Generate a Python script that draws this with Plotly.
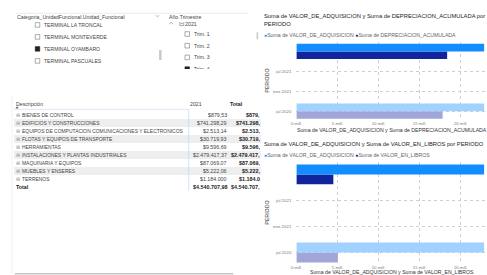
import plotly.graph_objects as go

# ------------------------------------------------------------------ data
PERIODOS = ["2020-06-30", "2021-12-31"]
PERIODO_SELECCIONADO = [False, True]
VALOR_DE_ADQUISICION = [22.85e6, 22.85e6]
DEPRECIACION_ACUMULADA = [17.80e6, 18.35e6]
VALOR_EN_LIBROS = [5.05e6, 4.50e6]

EJE_X_VALORES = [0, 5e6, 10e6, 15e6, 20e6]
EJE_X_ETIQUETAS = ["0 mill.", "5 mill.", "10 mill.", "15 mill.", "20 mill."]
EJE_Y_FECHAS = ["2020-07-01", "2021-01-01", "2021-07-01"]
EJE_Y_ETIQUETAS = ["jul 2020", "ene 2021", "jul 2021"]

UNIDADES = ["TERMINAL LA TRONCAL", "TERMINAL MONTEVERDE",
            "TERMINAL OYAMBARO", "TERMINAL PASCUALES"]
UNIDAD_SELECCIONADA = [False, False, True, False]
ANIO = "2021"
TRIMESTRES = ["Trim. 1", "Trim. 2", "Trim. 3", "Trim. 4"]
TRIMESTRE_SELECCIONADO = [False, False, False, True]

DESCRIPCIONES = [
    "BIENES DE CONTROL",
    "EDIFICIOS Y CONSTRUCCIONES",
    "EQUIPOS DE COMPUTACION COMUNICACIONES Y ELECTRONICOS",
    "FLOTAS Y EQUIPOS DE TRANSPORTE",
    "HERRAMIENTAS",
    "INSTALACIONES Y PLANTAS INDUSTRIALES",
    "MAQUINARIA Y EQUIPOS",
    "MUEBLES Y ENSERES",
    "TERRENOS",
]
VALORES_2021 = [879.53, 741298.29, 2513.14, 30719.93, 9596.69,
                2479417.37, 87069.07, 5222.06, 1184000]
TOTAL_2021 = 4540707.98

# ------------------------------------------------------------------ style
W, H = 487, 275
FONT = "Liberation Sans, Arial, sans-serif"
AZUL, AZUL_TENUE = "#118DFF", "#A0D1FF"
MARINO, MARINO_TENUE = "#12239E", "#A0A7D8"
BAR_W = 70 * 86400000  # bar thickness in ms
X_MAX = 23.2e6
Y_RANGE = ["2020-04-10", "2022-03-28"]


def X(p):
    return p / W


def Y(p):
    return 1 - p / H


def fmt(v):
    s = f"{v:,.0f}" if float(v).is_integer() else f"{v:,.2f}"
    return "$" + s.replace(",", "#").replace(".", ",").replace("#", ".")


def colores(base, tenue):
    return [base if s else tenue for s in PERIODO_SELECCIONADO]


fig = go.Figure()

# chart 1 : adquisicion vs depreciacion
fig.add_trace(go.Bar(orientation="h", y=PERIODOS, x=DEPRECIACION_ACUMULADA,
                     marker=dict(color=colores(MARINO, MARINO_TENUE), line_width=0),
                     offset=-BAR_W, width=BAR_W, xaxis="x", yaxis="y",
                     name="Suma de DEPRECIACION_ACUMULADA"))
fig.add_trace(go.Bar(orientation="h", y=PERIODOS, x=VALOR_DE_ADQUISICION,
                     marker=dict(color=colores(AZUL, AZUL_TENUE), line_width=0),
                     offset=0, width=BAR_W, xaxis="x", yaxis="y",
                     name="Suma de VALOR_DE_ADQUISICION"))
# chart 2 : adquisicion vs valor en libros
fig.add_trace(go.Bar(orientation="h", y=PERIODOS, x=VALOR_EN_LIBROS,
                     marker=dict(color=colores(MARINO, MARINO_TENUE), line_width=0),
                     offset=-BAR_W, width=BAR_W, xaxis="x2", yaxis="y2",
                     name="Suma de VALOR_EN_LIBROS"))
fig.add_trace(go.Bar(orientation="h", y=PERIODOS, x=VALOR_DE_ADQUISICION,
                     marker=dict(color=colores(AZUL, AZUL_TENUE), line_width=0),
                     offset=0, width=BAR_W, xaxis="x2", yaxis="y2",
                     name="Suma de VALOR_DE_ADQUISICION"))

xcommon = dict(range=[0, X_MAX], tickvals=EJE_X_VALORES, ticktext=EJE_X_ETIQUETAS,
               tickfont=dict(family=FONT, size=4.3, color="#777"),
               showgrid=True, gridcolor="#cfcfcf", griddash="dot", gridwidth=0.7,
               zeroline=False, showline=False, ticks="", fixedrange=True,
               domain=[X(294), 1])
ycommon = dict(type="date", range=Y_RANGE, tickvals=EJE_Y_FECHAS, ticktext=EJE_Y_ETIQUETAS,
               tickfont=dict(family=FONT, size=4.4, color="#777"),
               showgrid=True, gridcolor="#cfcfcf", griddash="dot", gridwidth=0.7,
               zeroline=False, showline=False, ticks="", ticklabelstandoff=4,
               fixedrange=True)

fig.update_layout(
    width=W, height=H, margin=dict(l=0, r=0, t=0, b=0),
    paper_bgcolor="white", plot_bgcolor="white", showlegend=False,
    barmode="overlay",
    xaxis=dict(anchor="y", **xcommon),
    yaxis=dict(anchor="x", domain=[Y(120), Y(42)], **ycommon),
    xaxis2=dict(anchor="y2", **xcommon),
    yaxis2=dict(anchor="x2", domain=[Y(264), Y(162)], **ycommon),
)

ann, shapes = [], []


def txt(x, y, s, size=5.3, color="#333", xanchor="left", bold=False, **kw):
    if bold:
        s = f"<b>{s}</b>"
    d = dict(x=X(x), y=Y(y), xref="paper", yref="paper", text=s, showarrow=False,
             xanchor=xanchor, yanchor="middle", borderpad=0, borderwidth=0,
             font=dict(family=FONT, size=size, color=color))
    d.update(kw)
    ann.append(d)


def mask(x0, y0, x1, y1):
    ann.append(dict(x=X(x0), y=Y(y0), xref="paper", yref="paper", text=" ",
                    showarrow=False, xanchor="left", yanchor="top",
                    width=x1 - x0, height=y1 - y0, bgcolor="white",
                    borderpad=0, borderwidth=0))


def rect(x0, y0, x1, y1, fill, line=None, lw=0):
    shapes.append(dict(type="rect", xref="paper", yref="paper",
                       x0=X(x0), x1=X(x1), y0=Y(y1), y1=Y(y0),
                       fillcolor=fill, line=dict(color=line or fill, width=lw),
                       layer="above"))


def line(x0, y0, x1, y1, color, lw=1):
    shapes.append(dict(type="line", xref="paper", yref="paper",
                       x0=X(x0), x1=X(x1), y0=Y(y0), y1=Y(y1),
                       line=dict(color=color, width=lw), layer="above"))


def path(pts, color, fill=None, lw=0.8):
    d = "M " + " L ".join(f"{X(a)} {Y(b)}" for a, b in pts)
    if fill:
        d += " Z"
    shapes.append(dict(type="path", xref="paper", yref="paper", path=d,
                       line=dict(color=color, width=lw),
                       fillcolor=fill or "rgba(0,0,0,0)", layer="above"))


# ------------------------------------------------------------------ chart texts
txt(261, 19.5, "Suma de VALOR_DE_ADQUISICION y Suma de DEPRECIACION_ACUMULADA por<br>PERIODO",
    size=5.8, color="#252423", align="left")
txt(261, 34.5, f'<span style="color:{AZUL}">●</span>{fig.data[1].name} '
               f'<span style="color:{MARINO}">●</span>{fig.data[0].name}',
    size=5.2, color="#666")
rect(253.7, 32.3, 255.3, 39.3, "#c8c8c8")
txt(264, 81, "PERIODO", size=5.3, color="#333", xanchor="center", textangle=-90)
txt(390.5, 129.5, "Suma de VALOR_DE_ADQUISICION y Suma de DEPRECIACION_ACUMULADA",
    size=5.2, color="#333", xanchor="center")

txt(261, 144, "Suma de VALOR_DE_ADQUISICION y Suma de VALOR_EN_LIBROS por PERIODO",
    size=5.75, color="#252423")
txt(261, 155, f'<span style="color:{AZUL}">●</span>{fig.data[3].name} '
              f'<span style="color:{MARINO}">●</span>{fig.data[2].name}',
    size=5.2, color="#666")
txt(264, 213, "PERIODO", size=5.3, color="#333", xanchor="center", textangle=-90)
txt(390.5, 272, "Suma de VALOR_DE_ADQUISICION y Suma de VALOR_EN_LIBROS",
    size=5.2, color="#333", xanchor="center")

# ------------------------------------------------------------------ slicers
line(10, 13.3, 245, 13.3, "#e6e6e6", 0.8)
txt(11.5, 16.7, "Categoria_UnidadFuncional.Unidad_Funcional", size=5.2, color="#444")
path([(151.6, 15.2), (153.3, 16.9), (155, 15.2)], "#888", lw=0.6)
for i, (u, sel) in enumerate(zip(UNIDADES, UNIDAD_SELECCIONADA)):
    yc = 24.9 + 12 * i
    rect(29.6, yc - 2.3, 34.2, yc + 2.3, "#222" if sel else "white", "#777" if not sel else "#222", 0.6)
    txt(38, yc, u, size=5.1, color="#444")
rect(155, 50, 157.5, 60, "#c8c8c8")

# year slicer
path([(165.3, 24.2), (167.3, 22.2), (169.3, 24.2)], "#777", lw=0.6)
rect(176, 21.6, 180, 25.6, "white", "#777", 0.6)
line(177, 23.6, 179, 23.6, "#555", 0.6)
txt(181.5, 23.6, ANIO, size=5.3, color="#444")
for i, (t, sel) in enumerate(zip(TRIMESTRES, TRIMESTRE_SELECCIONADO)):
    yc = 34 + 11.7 * i
    rect(181.2, yc - 2.3, 185.8, yc + 2.3, "#222" if sel else "white", "#222" if sel else "#777", 0.6)
    txt(190.5, yc, t, size=5.1, color="#444")
mask(160, 14.2, 246, 21.7)
mask(8, 68.5, 246, 80)
txt(165.5, 16.7, "Año.Trimestre", size=5.2, color="#444")

# ------------------------------------------------------------------ matrix table
ROW0, ROW_H = 115, 8
txt(10, 103.8, "Descripción", size=5.2, color="#444")
path([(10, 108.2), (11.2, 106.6), (12.4, 108.2)], "#444", fill="#444", lw=0.3)
txt(186, 103.8, ANIO, size=5.2, color="#444")
txt(227, 103.8, "Total", size=5.3, color="#222", bold=True)
line(8, 109.3, 185, 109.3, "#d3e1f1", 0.8)

for i, (d, v) in enumerate(zip(DESCRIPCIONES, VALORES_2021)):
    yc = ROW0 + ROW_H * i
    if i % 2 == 1:
        rect(8, yc - 4, 258, yc + 4, "#eeeeee")
    txt(9.8, yc, "⊞", size=4.6, color="#999")
    txt(16.3, yc, d, size=4.95, color="#444")
    txt(223.5, yc, fmt(v), size=5.3, color="#444", xanchor="right")
    txt(257, yc, fmt(v)[:-2], size=5.4, color="#222", xanchor="right", bold=True)
ytot = ROW0 + ROW_H * len(DESCRIPCIONES)
txt(10, ytot, "Total", size=5.3, color="#222", bold=True)
txt(223.5, ytot, fmt(TOTAL_2021), size=5.4, color="#222", xanchor="right", bold=True)
txt(257, ytot, fmt(TOTAL_2021)[:-2], size=5.4, color="#222", xanchor="right", bold=True)
line(185, 109.3, 185, 190.5, "#c5d9f0", 0.8)

line(6, 96, 6, 273, "#eeeeee", 0.8)
line(9, 273.8, 230, 273.8, "#c6c6c6", 1.5)

fig.update_layout(annotations=ann, shapes=shapes)

fig.write_html("out.html", config={"displayModeBar": False},
               post_script="document.body.style.margin='0';document.body.style.overflow='hidden';")
